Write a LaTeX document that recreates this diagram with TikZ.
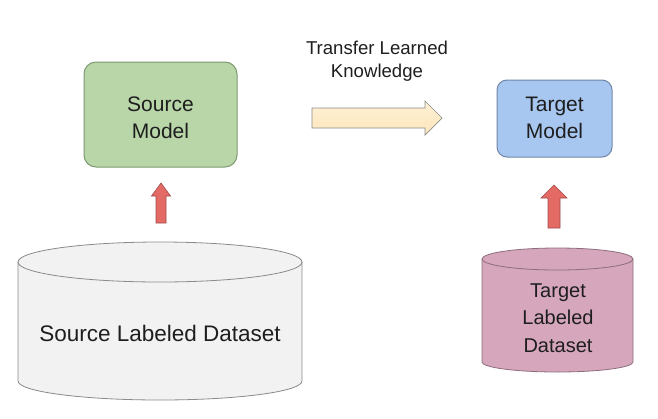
\documentclass[tikz,border=0pt]{standalone}
\usepackage{fontspec}
\setmainfont{Liberation Sans}
\definecolor{txt}{HTML}{1E1E1E}
\definecolor{greenfill}{HTML}{B9D6A9}
\definecolor{greenline}{HTML}{7E9A72}
\definecolor{bluefill}{HTML}{A8C7F0}
\definecolor{blueline}{HTML}{6F86A8}
\definecolor{greyfill}{HTML}{F2F2F2}
\definecolor{greyline}{HTML}{8A8A8A}
\definecolor{pinkfill}{HTML}{D5A6BC}
\definecolor{pinkline}{HTML}{8E6E7D}
\definecolor{redfill}{HTML}{E46A66}
\definecolor{redline}{HTML}{A04A48}
\definecolor{yelA}{HTML}{FEF1D4}
\definecolor{yelB}{HTML}{FCE6BC}
\tikzset{
  modelbox/.style={rounded corners=12pt, line width=1pt},
  lbl/.style={text=txt, align=center, font=\fontsize{21}{27}\selectfont, inner sep=0pt},
  redarrow/.style={fill=redfill, draw=redline, line width=0.6pt, line join=miter},
}
\begin{document}
\begin{tikzpicture}[x=1pt,y=1pt]
\useasboundingbox (0,0) rectangle (658,-418);
% source model
\draw[modelbox, fill=greenfill, draw=greenline] (84,-62) rectangle (237,-167);
\node[lbl] (srcmodel) at (160.5,-118) {Source\\Model};
% target model
\draw[modelbox, rounded corners=10pt, fill=bluefill, draw=blueline] (497,-80) rectangle (612,-157);
\node[lbl] (tgtmodel) at (554.5,-118) {Target\\Model};
% transfer arrow
\draw[top color=yelA, bottom color=yelB, draw=greyline, line width=0.7pt, line join=miter]
  (312,-108) -- (425,-108) -- (425,-101) -- (442,-118) -- (425,-135) -- (425,-128) -- (312,-128) -- cycle;
\node[lbl, font=\fontsize{18.6}{23}\selectfont] (transfer) at (377,-61) {Transfer Learned\\Knowledge};
% source cylinder
\filldraw[fill=greyfill, draw=greyline, line width=0.8pt]
  (18,-262) -- (18,-381) arc[start angle=180, end angle=360, x radius=142, y radius=19] -- (302,-262) -- cycle;
\filldraw[fill=greyfill, draw=greyline, line width=0.8pt] (160,-262) ellipse[x radius=142, y radius=20];
\node[lbl, font=\fontsize{22.5}{27}\selectfont] (srcdata) at (160,-333) {Source Labeled Dataset};
% target cylinder
\filldraw[fill=pinkfill, draw=pinkline, line width=0.8pt]
  (482,-259) -- (482,-362) arc[start angle=180, end angle=360, x radius=75.5, y radius=10] -- (633,-259) -- cycle;
\filldraw[fill=pinkfill, draw=pinkline, line width=0.8pt] (557.5,-259) ellipse[x radius=75.5, y radius=11];
\node[lbl, font=\fontsize{20}{27.5}\selectfont] (tgtdata) at (558,-318) {Target\\Labeled\\Dataset};
% red arrows
\draw[redarrow] (156,-223) -- (156,-196) -- (151.5,-196) -- (161,-183) -- (170.5,-196) -- (166,-196) -- (166,-223) -- cycle;
\draw[redarrow] (548,-228) -- (548,-198) -- (541,-198) -- (554,-185) -- (567,-198) -- (560,-198) -- (560,-228) -- cycle;
\end{tikzpicture}
\end{document}
